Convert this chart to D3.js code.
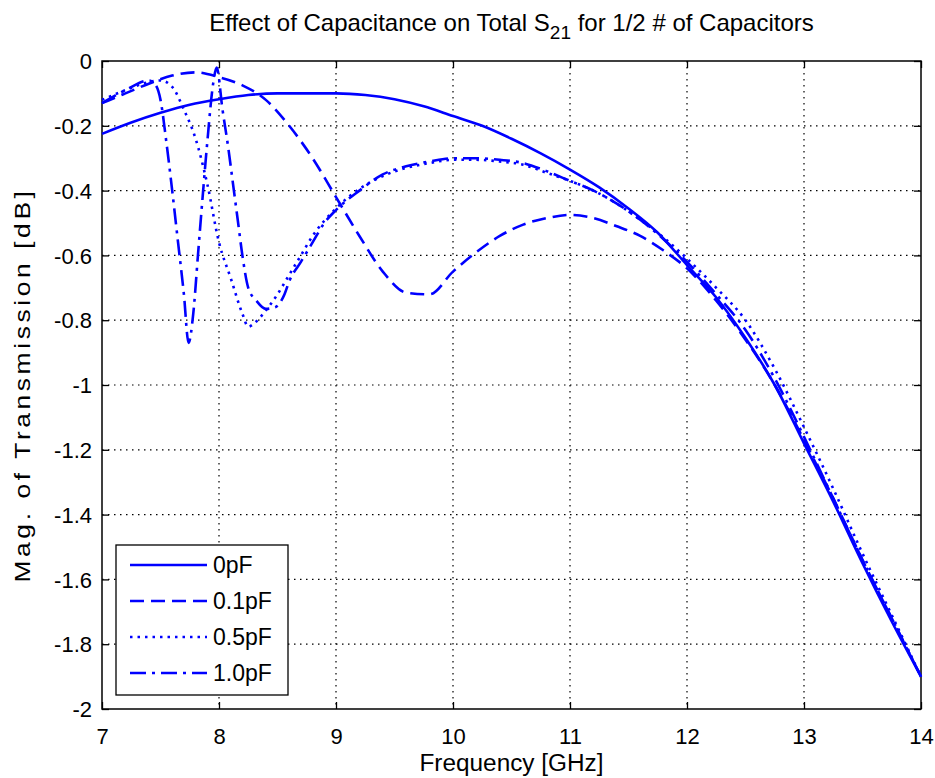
<!DOCTYPE html>
<html>
<head>
<meta charset="utf-8">
<script src="https://cdn.jsdelivr.net/npm/d3@7"></script>
<style>
  body { margin: 0; background: #fff; }
  text { font-family: "Liberation Sans Narrow", "Liberation Sans", Arial, sans-serif; fill: #000; }
</style>
</head>
<body>
<div id="chart"></div>
<script>
var width = 935, height = 778;
var margin = {top: 61, right: 14, bottom: 69, left: 102};

// ---------------- data ----------------
var labels = ["0pF", "0.1pF", "0.5pF", "1.0pF"];
var dashes = [null, "14,7", "2.5,5", "16,6,3,6"];

var freq0 = [7.0, 7.25, 7.5, 7.75, 8.0, 8.25, 8.5, 8.75, 9.0, 9.25, 9.5, 9.75, 10.0, 10.25, 10.5, 10.75, 11.0, 11.25, 11.5, 11.75, 12.0, 12.25, 12.5, 12.75, 13.0, 13.25, 13.5, 13.75, 14.0];
var mag0  = [-0.225, -0.19, -0.16, -0.135, -0.118, -0.105, -0.1, -0.1, -0.1, -0.105, -0.118, -0.14, -0.17, -0.2, -0.24, -0.285, -0.335, -0.39, -0.455, -0.53, -0.63, -0.73, -0.855, -1.0, -1.18, -1.36, -1.55, -1.73, -1.9];

var freq1 = [7.0, 7.2, 7.4, 7.6, 7.8, 8.0, 8.2, 8.4, 8.6, 8.8, 9.0, 9.2, 9.4, 9.6, 9.8, 10.0, 10.2, 10.4, 10.6, 10.8, 11.0, 11.2, 11.4, 11.6, 11.8, 12.0, 12.25, 12.5, 12.75, 13.0, 13.25, 13.5, 13.75, 14.0];
var mag1  = [-0.13, -0.1, -0.07, -0.045, -0.035, -0.05, -0.075, -0.12, -0.2, -0.3, -0.42, -0.54, -0.65, -0.715, -0.72, -0.65, -0.59, -0.54, -0.505, -0.485, -0.475, -0.485, -0.51, -0.54, -0.585, -0.64, -0.74, -0.86, -1.0, -1.17, -1.35, -1.54, -1.72, -1.9];

var freq2 = [7.0, 7.2, 7.4, 7.5, 7.6, 7.7, 7.8, 7.9, 8.0, 8.1, 8.2, 8.25, 8.3, 8.4, 8.5, 8.6, 8.7, 8.8, 9.0, 9.2, 9.4, 9.6, 9.8, 10.0, 10.2, 10.4, 10.6, 10.8, 11.0, 11.2, 11.4, 11.6, 11.8, 12.0, 12.25, 12.5, 12.75, 13.0, 13.25, 13.5, 13.75, 14.0];
var mag2  = [-0.12, -0.09, -0.065, -0.06, -0.08, -0.15, -0.24, -0.38, -0.56, -0.67, -0.78, -0.82, -0.81, -0.77, -0.72, -0.66, -0.6, -0.54, -0.455, -0.395, -0.355, -0.33, -0.315, -0.305, -0.305, -0.31, -0.32, -0.345, -0.37, -0.4, -0.44, -0.49, -0.545, -0.61, -0.7, -0.8, -0.95, -1.13, -1.32, -1.52, -1.71, -1.9];

var freq3 = [7.0, 7.2, 7.4, 7.45, 7.5, 7.55, 7.6, 7.65, 7.7, 7.74, 7.78, 7.82, 7.86, 7.9, 7.95, 7.98, 8.03, 8.08, 8.12, 8.16, 8.2, 8.25, 8.32, 8.4, 8.48, 8.56, 8.6, 8.7, 8.8, 8.9, 9.0, 9.2, 9.4, 9.6, 9.8, 10.0, 10.2, 10.4, 10.6, 10.8, 11.0, 11.2, 11.4, 11.6, 11.8, 12.0, 12.25, 12.5, 12.75, 13.0, 13.25, 13.5, 13.75, 14.0];
var mag3  = [-0.13, -0.09, -0.06, -0.07, -0.12, -0.25, -0.4, -0.56, -0.72, -0.87, -0.78, -0.6, -0.42, -0.25, -0.07, -0.02, -0.15, -0.27, -0.38, -0.49, -0.6, -0.7, -0.74, -0.765, -0.76, -0.72, -0.68, -0.62, -0.56, -0.5, -0.46, -0.4, -0.35, -0.325, -0.31, -0.3, -0.3, -0.305, -0.315, -0.34, -0.37, -0.4, -0.44, -0.49, -0.55, -0.62, -0.72, -0.83, -0.98, -1.16, -1.35, -1.54, -1.72, -1.9];

var xTicks = [7, 8, 9, 10, 11, 12, 13, 14];
var yTicks = [0, -0.2, -0.4, -0.6, -0.8, -1, -1.2, -1.4, -1.6, -1.8, -2];

var series = [
  freq0.map((f, i) => [f, mag0[i]]),
  freq1.map((f, i) => [f, mag1[i]]),
  freq2.map((f, i) => [f, mag2[i]]),
  freq3.map((f, i) => [f, mag3[i]])
];

// ---------------- svg ----------------
var svg = d3.select("#chart").append("svg")
    .attr("width", width)
    .attr("height", height);

var iw = width - margin.left - margin.right;
var ih = height - margin.top - margin.bottom;

var x = d3.scaleLinear().domain([7, 14]).range([0, iw]);
var y = d3.scaleLinear().domain([-2, 0]).range([ih, 0]);

var g = svg.append("g")
    .attr("transform", "translate(" + margin.left + "," + margin.top + ")");

// grid
g.selectAll(".vgrid")
  .data(xTicks.slice(1, -1))
  .join("line")
    .attr("x1", d => x(d)).attr("x2", d => x(d))
    .attr("y1", 0).attr("y2", ih)
    .attr("stroke", "#000").attr("stroke-width", 1.2)
    .attr("stroke-dasharray", "1.5,4.5");

g.selectAll(".hgrid")
  .data(yTicks.slice(1, -1))
  .join("line")
    .attr("y1", d => y(d)).attr("y2", d => y(d))
    .attr("x1", 0).attr("x2", iw)
    .attr("stroke", "#000").attr("stroke-width", 1.2)
    .attr("stroke-dasharray", "1.5,4.5");

// axes (ticks inward)
var fmt = d => String(+d.toFixed(1));
var xAxis = g.append("g").attr("transform", "translate(0," + ih + ")")
    .call(d3.axisBottom(x).tickValues(xTicks).tickSizeInner(-7).tickSizeOuter(0).tickPadding(19).tickFormat(fmt));
var xTop = g.append("g")
    .call(d3.axisTop(x).tickValues(xTicks).tickSizeInner(-7).tickSizeOuter(0).tickFormat(""));
var yAxis = g.append("g")
    .call(d3.axisLeft(y).tickValues(yTicks).tickSizeInner(-7).tickSizeOuter(0).tickPadding(10).tickFormat(fmt));
var yRight = g.append("g").attr("transform", "translate(" + iw + ",0)")
    .call(d3.axisRight(y).tickValues(yTicks).tickSizeInner(-7).tickSizeOuter(0).tickFormat(""));

[xAxis, xTop, yAxis, yRight].forEach(a => {
  a.select(".domain").remove();
  a.selectAll("line").attr("stroke", "#000").attr("stroke-width", 1.3);
  a.selectAll("text").style("font-size", "22px").attr("fill", "#000")
    .style("font-family", "'Liberation Sans Narrow', 'Liberation Sans', Arial, sans-serif");
});
yAxis.selectAll("text").attr("dy", "0.35em");

// frame
g.append("rect")
  .attr("width", iw).attr("height", ih)
  .attr("fill", "none").attr("stroke", "#000").attr("stroke-width", 1.5);

// curves
var line = d3.line()
  .x(d => x(d[0])).y(d => y(d[1]))
  .curve(d3.curveMonotoneX);

g.selectAll(".curve")
  .data(series)
  .join("path")
    .attr("d", line)
    .attr("fill", "none")
    .attr("stroke", "#0000ff")
    .attr("stroke-width", 2.6)
    .attr("stroke-dasharray", (d, i) => dashes[i]);

// titles
var title = svg.append("text")
  .attr("x", margin.left + iw / 2)
  .attr("y", 31)
  .attr("text-anchor", "middle")
  .style("font-size", "24px");
title.append("tspan").text("Effect of Capacitance on Total S");
title.append("tspan").attr("dy", 8).style("font-size", "19px").text("21");
title.append("tspan").attr("dy", -8).text(" for 1/2 # of Capacitors");

svg.append("text")
  .attr("x", margin.left + iw / 2)
  .attr("y", 771)
  .attr("text-anchor", "middle")
  .attr("textLength", 184)
  .attr("lengthAdjust", "spacingAndGlyphs")
  .style("font-size", "23px")
  .text("Frequency [GHz]");

svg.append("text")
  .attr("transform", "translate(30," + (margin.top + ih / 2) + ") rotate(-90)")
  .attr("text-anchor", "middle")
  .attr("textLength", 395)
  .attr("lengthAdjust", "spacingAndGlyphs")
  .style("font-size", "22px")
  .style("letter-spacing", "3px")
  .text("Mag. of Transmission [dB]");

// legend
var legend = svg.append("g").attr("transform", "translate(116,545)");
legend.append("rect")
  .attr("width", 172).attr("height", 150)
  .attr("fill", "#fff").attr("stroke", "#000").attr("stroke-width", 1.3);

var item = legend.selectAll(".item")
  .data(labels)
  .join("g")
    .attr("transform", (d, i) => "translate(0," + (20 + i * 36) + ")");

item.append("line")
  .attr("x1", 14).attr("x2", 91)
  .attr("stroke", "#0000ff").attr("stroke-width", 2.6)
  .attr("stroke-dasharray", (d, i) => dashes[i]);

item.append("text")
  .attr("x", 97).attr("dy", "0.36em")
  .style("font-size", "23px")
  .text(d => d);
</script>
</body>
</html>
